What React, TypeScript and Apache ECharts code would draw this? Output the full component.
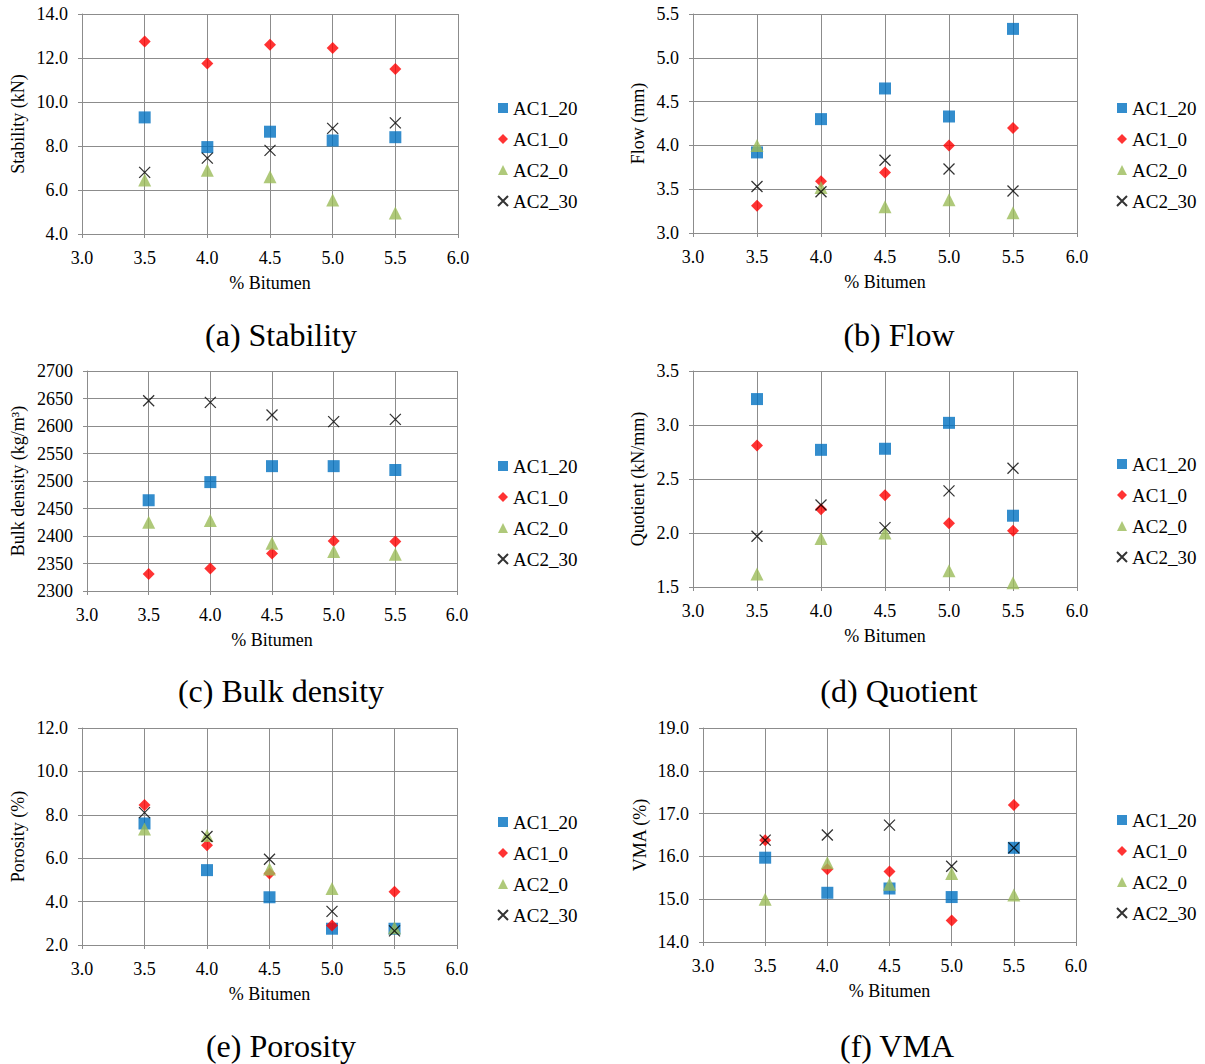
import React, { useEffect, useRef } from "react";
import * as echarts from "echarts";

// ---------- data ----------
const bitumen = [3.5, 4.0, 4.5, 5.0, 5.5];
const seriesNames = ["AC1_20", "AC1_0", "AC2_0", "AC2_30"];

const stabilityAC1_20 = [9.3, 7.95, 8.65, 8.25, 8.4];
const stabilityAC1_0 = [12.75, 11.75, 12.6, 12.45, 11.5];
const stabilityAC2_0 = [6.45, 6.9, 6.6, 5.55, 4.95];
const stabilityAC2_30 = [6.8, 7.45, 7.8, 8.8, 9.05];

const flowAC1_20 = [3.92, 4.3, 4.65, 4.33, 5.33];
const flowAC1_0 = [3.31, 3.59, 3.69, 4.0, 4.2];
const flowAC2_0 = [4.0, 3.52, 3.3, 3.38, 3.23];
const flowAC2_30 = [3.53, 3.47, 3.83, 3.73, 3.48];

const densityAC1_20 = [2465, 2498, 2527, 2527, 2520];
const densityAC1_0 = [2331, 2341, 2368, 2391, 2390];
const densityAC2_0 = [2425, 2428, 2387, 2372, 2367];
const densityAC2_30 = [2646, 2643, 2620, 2608, 2612];

const quotientAC1_20 = [3.24, 2.77, 2.78, 3.02, 2.16];
const quotientAC1_0 = [2.81, 2.22, 2.35, 2.09, 2.02];
const quotientAC2_0 = [1.62, 1.95, 2.0, 1.65, 1.54];
const quotientAC2_30 = [1.97, 2.26, 2.05, 2.39, 2.6];

const porosityAC1_20 = [7.6, 5.45, 4.2, 2.75, 2.75];
const porosityAC1_0 = [8.45, 6.6, 5.3, 2.9, 4.45];
const porosityAC2_0 = [7.35, 7.05, 5.5, 4.6, 2.8];
const porosityAC2_30 = [8.1, 7.0, 5.95, 3.55, 2.65];

const vmaAC1_20 = [15.97, 15.15, 15.25, 15.05, 16.2];
const vmaAC1_0 = [16.38, 15.7, 15.65, 14.5, 17.2];
const vmaAC2_0 = [15.0, 15.85, 15.35, 15.6, 15.1];
const vmaAC2_30 = [16.38, 16.5, 16.73, 15.77, 16.2];

const panelTitles = ["(a) Stability", "(b) Flow", "(c) Bulk density", "(d) Quotient", "(e) Porosity", "(f) VMA"];
const yAxisNames = ["Stability (kN)", "Flow (mm)", "Bulk density (kg/m\u00B3)", "Quotient (kN/mm)", "Porosity (%)", "VMA (%)"];
const xAxisName = "% Bitumen";
const xMin = 3.0;
const xMax = 6.0;
const xStep = 0.5;
const yMins = [4, 3, 2300, 1.5, 2, 14];
const yMaxs = [14, 5.5, 2700, 3.5, 12, 19];
const ySteps = [2, 0.5, 50, 0.5, 2, 1];
const yDecimals = [1, 1, 0, 1, 1, 1];

const panelData = [
  [stabilityAC1_20, stabilityAC1_0, stabilityAC2_0, stabilityAC2_30],
  [flowAC1_20, flowAC1_0, flowAC2_0, flowAC2_30],
  [densityAC1_20, densityAC1_0, densityAC2_0, densityAC2_30],
  [quotientAC1_20, quotientAC1_0, quotientAC2_0, quotientAC2_30],
  [porosityAC1_20, porosityAC1_0, porosityAC2_0, porosityAC2_30],
  [vmaAC1_20, vmaAC1_0, vmaAC2_0, vmaAC2_30],
];

// ---------- layout / style ----------
const layout = [
  { l: 82, t: 14, r: 458, b: 234, yGap: 55, legX: 497, legY: 98, titleX: 281, titleY: 335 },
  { l: 693, t: 14, r: 1077, b: 233, yGap: 46, legX: 1116, legY: 98, titleX: 899, titleY: 335 },
  { l: 87, t: 371, r: 457, b: 591, yGap: 60, legX: 497, legY: 456, titleX: 281, titleY: 691 },
  { l: 693, t: 371, r: 1077, b: 587, yGap: 46, legX: 1116, legY: 454, titleX: 899, titleY: 691 },
  { l: 82, t: 728, r: 457, b: 945, yGap: 55, legX: 497, legY: 812, titleX: 281, titleY: 1046 },
  { l: 703, t: 728, r: 1076, b: 942, yGap: 54, legX: 1116, legY: 810, titleX: 897, titleY: 1046 },
];

const FONT = "Liberation Serif";
const GRID = "#8c8c8c";
const X_PATH = "path://M0,0L10,10M10,0L0,10";
const symbols = ["rect", "diamond", "triangle", X_PATH];
const symbolSizes = [12, 12, 13, 11];
const colors = ["#0070C0", "#FF0000", "#9BBB59", "#000000"];

function buildOption() {
  const grid: any[] = [];
  const xAxis: any[] = [];
  const yAxis: any[] = [];
  const series: any[] = [];
  const legend: any[] = [];
  const graphic: any[] = [];

  layout.forEach((p, k) => {
    grid.push({ left: p.l, top: p.t, width: p.r - p.l, height: p.b - p.t, containLabel: false });
    xAxis.push({
      type: "value",
      gridIndex: k,
      min: xMin,
      max: xMax,
      interval: xStep,
      name: xAxisName,
      nameLocation: "middle",
      nameGap: 40,
      nameTextStyle: { fontFamily: FONT, fontSize: 18, color: "#000" },
      axisLine: { show: true, lineStyle: { color: GRID, width: 1 } },
      axisTick: { show: true, length: 4, lineStyle: { color: GRID } },
      axisLabel: {
        fontFamily: FONT,
        fontSize: 18,
        color: "#000",
        margin: 15,
        formatter: (v: number) => v.toFixed(1),
      },
      splitLine: { show: true, lineStyle: { color: GRID, width: 1 } },
    });
    yAxis.push({
      type: "value",
      gridIndex: k,
      min: yMins[k],
      max: yMaxs[k],
      interval: ySteps[k],
      name: yAxisNames[k],
      nameLocation: "middle",
      nameGap: p.yGap,
      nameRotate: 90,
      nameTextStyle: { fontFamily: FONT, fontSize: 18, color: "#000" },
      axisLine: { show: true, lineStyle: { color: GRID, width: 1 } },
      axisTick: { show: true, length: 4, lineStyle: { color: GRID } },
      axisLabel: {
        fontFamily: FONT,
        fontSize: 18,
        color: "#000",
        margin: 14,
        formatter: (v: number) => v.toFixed(yDecimals[k]),
      },
      splitLine: { show: true, lineStyle: { color: GRID, width: 1 } },
    });
    seriesNames.forEach((name, s) => {
      const isX = s === 3;
      series.push({
        type: "scatter",
        name,
        xAxisIndex: k,
        yAxisIndex: k,
        symbol: symbols[s],
        symbolSize: symbolSizes[s],
        itemStyle: isX
          ? { color: "#000", borderColor: "#000", borderWidth: 1.3 }
          : { color: colors[s], borderWidth: 0 },
        emphasis: { disabled: true },
        data: bitumen.map((x, i) => [x, panelData[k][s][i]]),
        z: 2 + s,
      });
    });
    legend.push({
      orient: "vertical",
      left: p.legX,
      top: p.legY,
      padding: 0,
      itemWidth: 10,
      itemHeight: 10,
      itemGap: 11,
      selectedMode: false,
      textStyle: { fontFamily: FONT, fontSize: 19, color: "#000", lineHeight: 20 },
      data: seriesNames.map((n, s) => ({ name: n, icon: symbols[s] })),
    });
    graphic.push({
      type: "text",
      x: p.titleX,
      y: p.titleY,
      style: {
        text: panelTitles[k],
        font: `32px ${FONT}`,
        fill: "#000",
        textAlign: "center",
        textVerticalAlign: "middle",
      },
    });
  });

  return {
    animation: false,
    backgroundColor: "#ffffff",
    textStyle: { fontFamily: FONT },
    grid,
    xAxis,
    yAxis,
    series,
    legend,
    graphic,
  };
}

export default function App() {
  const ref = useRef<HTMLDivElement>(null);
  useEffect(() => {
    if (!ref.current) return;
    const chart = echarts.init(ref.current, undefined, { renderer: "svg" });
    chart.setOption(buildOption() as any);
    return () => chart.dispose();
  }, []);
  return (
    <div
      ref={ref}
      style={{ position: "fixed", left: 0, top: 0, width: 1205, height: 1064, background: "#fff" }}
    />
  );
}
